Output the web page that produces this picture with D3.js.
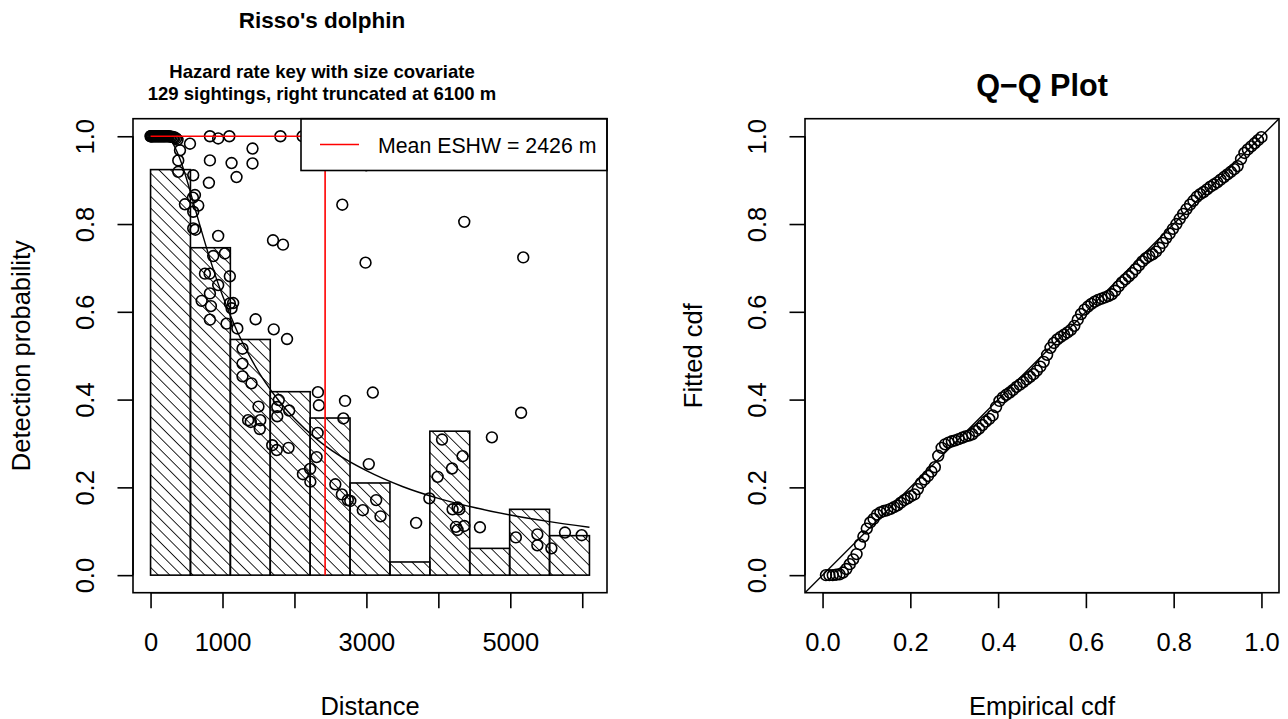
<!DOCTYPE html>
<html>
<head>
<meta charset="utf-8">
<script src="https://cdn.jsdelivr.net/npm/d3@7"></script>
<style>
  body { margin: 0; background: #fff; }
  svg text { font-family: "Liberation Sans", Arial, Helvetica, sans-serif; fill: #000; }
</style>
</head>
<body>
<svg id="chart" width="1288" height="719"></svg>
<script>
// ---------------- data ----------------
const truncation = 6100;
const eshw = 2426;

// histogram of scaled detection frequencies (11 equal bins over 0..6100 m)
const binEdges = [0, 554.5, 1109.1, 1663.6, 2218.2, 2772.7, 3327.3, 3881.8, 4436.4, 4990.9, 5545.5, 6100];
const binHeights = [0.924, 0.746, 0.537, 0.418, 0.358, 0.210, 0.030, 0.328, 0.061, 0.150, 0.090];

// per-sighting detection probability (size covariate), distance in m
const sightDistance = [
  0, 5, 15, 25, 40, 55, 70, 85, 100, 115, 130, 145, 160, 175, 190, 205, 220, 240, 255, 275, 295, 315, 335, 355, 375,
  548, 409, 385, 825, 1126, 1417, 1417, 385, 593, 1195, 811, 617, 589, 478, 663, 593, 593, 624, 940, 2665,
  1702, 1841, 871, 1033, 756, 821, 1102, 940, 825, 710, 839, 1102, 1148, 1126, 825, 1056, 1206, 1460, 1712, 1897,
  1278, 1278, 1278, 1403, 1500, 1356, 1393, 1525, 1518, 1782, 1761, 1761, 1927, 2326, 2340, 2703, 2322, 1691, 1754, 1917,
  2680, 2308, 2218, 2118, 2221, 2568, 2659, 2742, 2776, 2950, 3089, 3033, 3136, 3196, 3691, 3875, 4051, 4337, 4190, 3990,
  4198, 4267, 4291, 4360, 4267, 4245, 4578, 4744, 5150, 5077, 5376, 5376, 5571, 5760, 5992, 4360, 2988, 5180, 2997,
  825, 940, 1095, 1805, 2114
];
const sightProb = [
  1, 1, 1, 1, 1, 1, 1, 1, 1, 1, 1, 1, 1, 1, 1, 1, 1, 1, 1, 0.999, 0.999, 0.998, 0.997, 0.995, 0.992,
  0.983, 0.968, 0.945, 0.945, 0.939, 0.972, 0.938, 0.919, 0.911, 0.907, 0.894, 0.866, 0.860, 0.845, 0.842, 0.828, 0.790, 0.787, 0.773, 0.844,
  0.763, 0.753, 0.727, 0.733, 0.687, 0.687, 0.681, 0.661, 0.642, 0.625, 0.613, 0.619, 0.620, 0.608, 0.582, 0.573, 0.562, 0.583, 0.560, 0.538,
  0.516, 0.482, 0.453, 0.437, 0.384, 0.353, 0.349, 0.353, 0.333, 0.399, 0.383, 0.362, 0.375, 0.417, 0.387, 0.397, 0.324, 0.296, 0.285, 0.290,
  0.357, 0.269, 0.242, 0.230, 0.213, 0.207, 0.184, 0.171, 0.169, 0.148, 0.416, 0.253, 0.171, 0.134, 0.119, 0.175, 0.309, 0.271, 0.243, 0.224,
  0.150, 0.154, 0.150, 0.112, 0.103, 0.110, 0.109, 0.314, 0.370, 0.086, 0.093, 0.068, 0.061, 0.097, 0.091, 0.805, 0.712, 0.724, 0.934,
  1.000, 0.995, 1.000, 1.000, 1.000
];

// average fitted hazard-rate detection function
const fitDistance = [0, 100, 200, 300, 400, 500, 600, 700, 800, 900, 1000, 1200, 1400, 1600, 1800, 2000, 2300, 2600, 3000, 3500, 4000, 4500, 5000, 5500, 6100];
const fitProb = [1.000, 1.000, 0.999, 0.986, 0.952, 0.903, 0.846, 0.789, 0.734, 0.683, 0.637, 0.557, 0.492, 0.438, 0.394, 0.357, 0.311, 0.275, 0.238, 0.202, 0.175, 0.154, 0.137, 0.123, 0.109];

// Q-Q plot: fitted cdf of each sighting, in rank order
const qqFitted = [
  0.000, 0.000, 0.000, 0.001, 0.002, 0.006, 0.014, 0.025, 0.036, 0.048,
  0.070, 0.088, 0.106, 0.120, 0.128, 0.138, 0.143, 0.146, 0.148, 0.151,
  0.155, 0.159, 0.165, 0.171, 0.175, 0.180, 0.184, 0.196, 0.210, 0.218,
  0.226, 0.236, 0.246, 0.272, 0.290, 0.298, 0.302, 0.305, 0.307, 0.310,
  0.313, 0.316, 0.318, 0.321, 0.328, 0.334, 0.342, 0.350, 0.356, 0.364,
  0.383, 0.397, 0.405, 0.411, 0.416, 0.422, 0.429, 0.434, 0.440, 0.446,
  0.452, 0.458, 0.466, 0.475, 0.486, 0.502, 0.518, 0.529, 0.537, 0.543,
  0.548, 0.553, 0.559, 0.568, 0.582, 0.595, 0.605, 0.612, 0.618, 0.623,
  0.627, 0.630, 0.633, 0.636, 0.640, 0.648, 0.658, 0.667, 0.674, 0.681,
  0.688, 0.697, 0.706, 0.715, 0.722, 0.727, 0.731, 0.737, 0.746, 0.757,
  0.768, 0.778, 0.789, 0.800, 0.812, 0.823, 0.834, 0.844, 0.853, 0.862,
  0.868, 0.873, 0.879, 0.885, 0.890, 0.895, 0.901, 0.907, 0.913, 0.919,
  0.925, 0.932, 0.948, 0.962, 0.970, 0.977, 0.984, 0.991, 0.998
];

const distTicks = [0, 1000, 2000, 3000, 4000, 5000, 6000];
const distTickLabels = ["0", "1000", "", "3000", "", "5000", ""];
const probTicks = [0, 0.2, 0.4, 0.6, 0.8, 1.0];

const mainTitle = "Risso's dolphin";
const subTitle = ["Hazard rate key with size covariate", "129 sightings, right truncated at 6100 m"];
const legendLabel = "Mean ESHW = " + eshw + " m";
const qqTitle = "Q\u2212Q Plot";

// ---------------- layout ----------------
const svg = d3.select("#chart");
const FONT_AXIS = 25.5;
const LINE = 32.1;              // one margin text line, px
const tickLen = 15.5;
const plotTop = 118.7, plotBottom = 592.7;
const panelL = { left: 133, right: 607 };
const panelR = { left: 805, right: 1279 };
const lw = 1.6;

// R-style 4% axis expansion
function expand(a, b) { const d = (b - a) * 0.04; return [a - d, b + d]; }

const x1 = d3.scaleLinear().domain(expand(0, truncation)).range([panelL.left, panelL.right]);
const y1 = d3.scaleLinear().domain(expand(0, 1)).range([plotBottom, plotTop]);
const x2 = d3.scaleLinear().domain(expand(0, 1)).range([panelR.left, panelR.right]);
const y2 = d3.scaleLinear().domain(expand(0, 1)).range([plotBottom, plotTop]);

// hatch pattern for the histogram bars
const defs = svg.append("defs");
defs.append("pattern")
  .attr("id", "hatch")
  .attr("patternUnits", "userSpaceOnUse")
  .attr("width", 8.2).attr("height", 20)
  .attr("patternTransform", "rotate(-45)")
  .append("line")
  .attr("x1", 0).attr("y1", -5).attr("x2", 0).attr("y2", 25)
  .attr("stroke", "#000").attr("stroke-width", 1.7);

defs.append("clipPath").attr("id", "clipL").append("rect")
  .attr("x", panelL.left).attr("y", plotTop).attr("width", panelL.right - panelL.left).attr("height", plotBottom - plotTop);
defs.append("clipPath").attr("id", "clipR").append("rect")
  .attr("x", panelR.left).attr("y", plotTop).attr("width", panelR.right - panelR.left).attr("height", plotBottom - plotTop);

// bottom axis in R style: axis line only between first and last tick
function bottomAxis(scale, ticks, labels) {
  const g = svg.append("g").attr("transform", `translate(0,${plotBottom})`)
    .call(d3.axisBottom(scale).tickValues(ticks).tickSize(tickLen).tickPadding(24.8)
      .tickFormat((d, i) => labels[i]));
  g.select(".domain").remove();
  g.append("line").attr("x1", scale(ticks[0])).attr("x2", scale(ticks[ticks.length - 1]))
    .attr("stroke", "#000").attr("stroke-width", lw);
  g.selectAll(".tick line").attr("stroke-width", lw);
  g.selectAll("text").attr("font-size", FONT_AXIS).attr("font-family", null);
  return g;
}
// left axis with labels parallel to the axis
function leftAxis(scale, x0, ticks) {
  const g = svg.append("g").attr("transform", `translate(${x0},0)`)
    .call(d3.axisLeft(scale).tickValues(ticks).tickSize(tickLen).tickFormat(d3.format(".1f")));
  g.select(".domain").remove();
  g.append("line").attr("y1", scale(ticks[0])).attr("y2", scale(ticks[ticks.length - 1]))
    .attr("stroke", "#000").attr("stroke-width", lw);
  g.selectAll(".tick line").attr("stroke-width", lw);
  g.selectAll("text")
    .attr("font-size", FONT_AXIS).attr("font-family", null)
    .attr("transform", "rotate(-90)")
    .attr("x", 0).attr("y", -1.2 * LINE).attr("dy", null)
    .attr("text-anchor", "middle");
  return g;
}

// ================= left panel: detection function =================
const gL = svg.append("g");

// histogram bars
gL.append("g").selectAll("rect")
  .data(binHeights)
  .join("rect")
  .attr("x", (d, i) => x1(binEdges[i]))
  .attr("width", (d, i) => x1(binEdges[i + 1]) - x1(binEdges[i]))
  .attr("y", d => y1(d))
  .attr("height", d => y1(0) - y1(d))
  .attr("fill", "url(#hatch)")
  .attr("stroke", "#000")
  .attr("stroke-width", lw);

// fitted detection function
const fitPts = fitDistance.map((d, i) => [d, fitProb[i]]);
gL.append("path")
  .datum(fitPts)
  .attr("fill", "none").attr("stroke", "#000").attr("stroke-width", 1.4)
  .attr("d", d3.line().x(d => x1(d[0])).y(d => y1(d[1])).curve(d3.curveMonotoneX));

// per-sighting detection probabilities
gL.append("g").attr("clip-path", "url(#clipL)")
  .selectAll("circle")
  .data(sightDistance.map((d, i) => [d, sightProb[i]]))
  .join("circle")
  .attr("cx", d => x1(d[0])).attr("cy", d => y1(d[1]))
  .attr("r", 5.4)
  .attr("fill", "none").attr("stroke", "#000").attr("stroke-width", 1.6);

// mean effective strip half-width
gL.append("path")
  .attr("d", d3.line()([[x1(0), y1(1)], [x1(eshw), y1(1)], [x1(eshw), y1(0)]]))
  .attr("fill", "none").attr("stroke", "#ff0000").attr("stroke-width", 1.6);

// legend
const legX0 = 301, legY1 = 170.5;
gL.append("rect").attr("x", legX0).attr("y", plotTop).attr("width", panelL.right - legX0).attr("height", legY1 - plotTop)
  .attr("fill", "#fff").attr("stroke", "#000").attr("stroke-width", lw);
gL.append("line").attr("x1", 320).attr("x2", 359).attr("y1", 144.5).attr("y2", 144.5)
  .attr("stroke", "#ff0000").attr("stroke-width", 1.6);
gL.append("text").attr("x", 378).attr("y", 152.5).attr("font-size", 21.3).text(legendLabel);

// plot frame
gL.append("rect").attr("x", panelL.left).attr("y", plotTop).attr("width", panelL.right - panelL.left).attr("height", plotBottom - plotTop)
  .attr("fill", "none").attr("stroke", "#000").attr("stroke-width", lw);

bottomAxis(x1, distTicks, distTickLabels);
leftAxis(y1, panelL.left, probTicks);

// titles (centred on the left half of the figure)
const cTitle = 322;
gL.append("text").attr("x", cTitle).attr("y", 28).attr("text-anchor", "middle")
  .attr("font-size", 22.5).attr("font-weight", "bold").text(mainTitle);
gL.append("text").attr("x", cTitle).attr("y", 78).attr("text-anchor", "middle")
  .attr("font-size", 18.5).attr("font-weight", "bold").text(subTitle[0]);
gL.append("text").attr("x", cTitle).attr("y", 100).attr("text-anchor", "middle")
  .attr("font-size", 18.5).attr("font-weight", "bold").text(subTitle[1]);

// axis titles, placed on margin line 3
const cL = (panelL.left + panelL.right) / 2;
const xTitleY = plotBottom + 3.8 * LINE;
gL.append("text").attr("x", cL).attr("y", xTitleY).attr("text-anchor", "middle")
  .attr("font-size", FONT_AXIS).text("Distance");
gL.append("text").attr("transform", `translate(${panelL.left - 3.2 * LINE},${(plotTop + plotBottom) / 2}) rotate(-90)`)
  .attr("text-anchor", "middle").attr("font-size", FONT_AXIS).text("Detection probability");

// ================= right panel: Q-Q plot =================
const gR = svg.append("g");
const n = qqFitted.length;

gR.append("line")
  .attr("clip-path", "url(#clipR)")
  .attr("x1", x2(-0.04)).attr("y1", y2(-0.04)).attr("x2", x2(1.04)).attr("y2", y2(1.04))
  .attr("stroke", "#000").attr("stroke-width", 1.4);

gR.append("g").attr("clip-path", "url(#clipR)")
  .selectAll("circle")
  .data(qqFitted)
  .join("circle")
  .attr("cx", (d, i) => x2((i + 1) / n)).attr("cy", d => y2(d))
  .attr("r", 5.4)
  .attr("fill", "none").attr("stroke", "#000").attr("stroke-width", 1.6);

gR.append("rect").attr("x", panelR.left).attr("y", plotTop).attr("width", panelR.right - panelR.left).attr("height", plotBottom - plotTop)
  .attr("fill", "none").attr("stroke", "#000").attr("stroke-width", lw);

bottomAxis(x2, probTicks, probTicks.map(d3.format(".1f")));
leftAxis(y2, panelR.left, probTicks);

const cR = (panelR.left + panelR.right) / 2;
gR.append("text").attr("x", cR).attr("y", 96).attr("text-anchor", "middle")
  .attr("font-size", 30.6).attr("font-weight", "bold").text(qqTitle);
gR.append("text").attr("x", cR).attr("y", xTitleY).attr("text-anchor", "middle")
  .attr("font-size", FONT_AXIS).text("Empirical cdf");
gR.append("text").attr("transform", `translate(${panelR.left - 3.2 * LINE},${(plotTop + plotBottom) / 2}) rotate(-90)`)
  .attr("text-anchor", "middle").attr("font-size", FONT_AXIS).text("Fitted cdf");
</script>
</body>
</html>
